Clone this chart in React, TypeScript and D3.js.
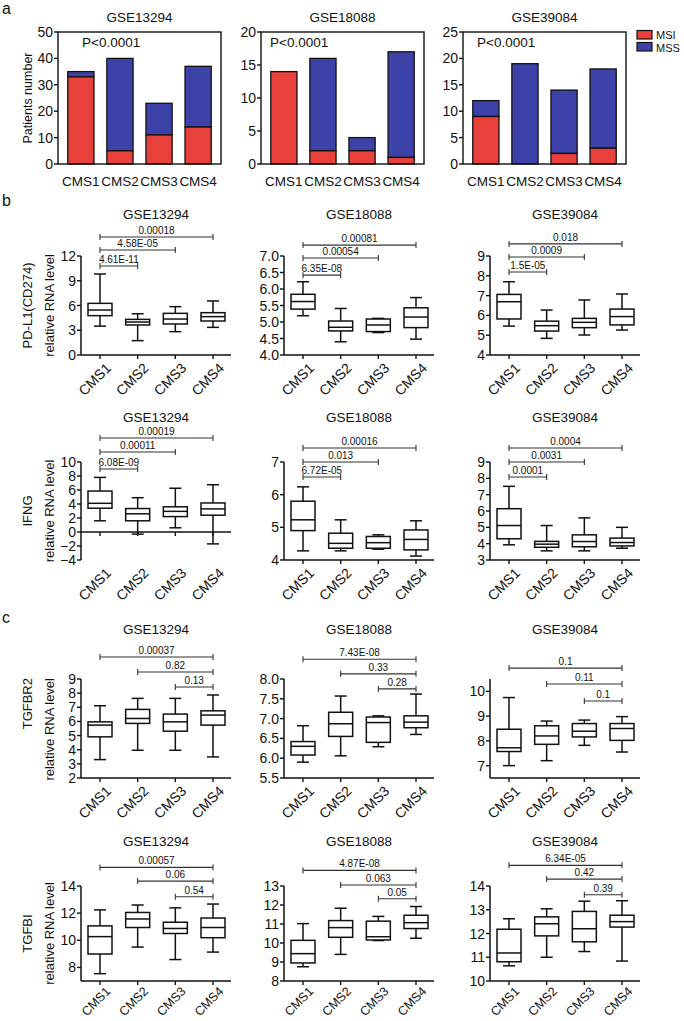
import React from "react";
import * as d3 from "d3";

// ---------- data ----------
const CATS = ["CMS1", "CMS2", "CMS3", "CMS4"];
const DATASETS = ["GSE13294", "GSE18088", "GSE39084"];

// panel a: patient counts
const MSI_GSE13294 = [33, 5, 11, 14];
const MSS_GSE13294 = [2, 35, 12, 23];
const MSI_GSE18088 = [14, 2, 2, 1];
const MSS_GSE18088 = [0, 14, 2, 16];
const MSI_GSE39084 = [9, 0, 2, 3];
const MSS_GSE39084 = [3, 19, 12, 15];
const BAR_YMAX = [50, 20, 25];
const BAR_TICKS = [
  [0, 10, 20, 30, 40, 50],
  [0, 5, 10, 15, 20],
  [0, 5, 10, 15, 20, 25],
];
const P_LABEL = "P<0.0001";
const LEGEND = ["MSI", "MSS"];

// box stats: [min, q1, median, q3, max]
const PDL1_GSE13294 = [[3.5, 4.77, 5.45, 6.26, 9.82], [1.74, 3.64, 4.0, 4.32, 5.0], [2.83, 3.76, 4.36, 5.05, 5.86], [3.35, 4.12, 4.65, 5.13, 6.55]];
const PDL1_GSE18088 = [[5.19, 5.39, 5.62, 5.84, 6.22], [4.4, 4.73, 4.84, 5.03, 5.41], [4.68, 4.71, 4.91, 5.09, 5.11], [4.48, 4.83, 5.15, 5.43, 5.74]];
const PDL1_GSE39084 = [[5.46, 5.82, 6.69, 7.06, 7.7], [4.84, 5.21, 5.48, 5.71, 6.27], [5.01, 5.38, 5.65, 5.85, 6.78], [5.26, 5.52, 5.94, 6.32, 7.08]];
const IFNG_GSE13294 = [[1.6, 3.4, 4.1, 5.85, 7.8], [-0.3, 1.6, 2.6, 3.35, 4.9], [0.6, 2.2, 2.95, 3.6, 6.25], [-1.7, 2.4, 3.3, 4.15, 6.75]];
const IFNG_GSE18088 = [[4.28, 4.9, 5.23, 5.8, 6.24], [4.28, 4.36, 4.51, 4.82, 5.23], [4.33, 4.36, 4.53, 4.72, 4.77], [4.12, 4.31, 4.63, 4.92, 5.2]];
const IFNG_GSE39084 = [[3.93, 4.3, 5.11, 6.14, 7.51], [3.56, 3.78, 3.97, 4.14, 5.11], [3.56, 3.81, 4.13, 4.54, 5.58], [3.72, 3.86, 4.07, 4.34, 5.0]];
const TGFBR2_GSE13294 = [[3.3, 4.91, 5.74, 5.97, 7.11], [3.96, 5.86, 6.21, 6.85, 7.63], [3.96, 5.31, 5.97, 6.52, 7.63], [3.49, 5.74, 6.45, 6.75, 7.87]];
const TGFBR2_GSE18088 = [[5.9, 6.08, 6.3, 6.42, 6.82], [6.06, 6.55, 6.87, 7.16, 7.57], [6.29, 6.4, 6.9, 7.04, 7.07], [6.6, 6.77, 6.91, 7.07, 7.62]];
const TGFBR2_GSE39084 = [[7.0, 7.57, 7.72, 8.47, 9.75], [7.2, 7.86, 8.2, 8.61, 8.8], [7.82, 8.16, 8.39, 8.7, 8.84], [7.55, 8.02, 8.5, 8.7, 8.98]];
const TGFBI_GSE13294 = [[7.54, 8.99, 10.27, 11.06, 12.24], [9.5, 10.94, 11.57, 12.05, 12.6], [8.58, 10.5, 10.87, 11.33, 12.39], [9.13, 10.19, 10.94, 11.64, 12.67]];
const TGFBI_GSE18088 = [[8.75, 8.95, 9.44, 10.14, 11.02], [9.4, 10.3, 10.81, 11.18, 11.83], [10.13, 10.16, 10.33, 11.15, 11.4], [10.25, 10.76, 11.07, 11.46, 11.92]];
const TGFBI_GSE39084 = [[10.64, 10.81, 11.18, 12.18, 12.62], [11.0, 11.9, 12.41, 12.7, 13.04], [11.24, 11.65, 12.2, 12.93, 13.36], [10.84, 12.27, 12.5, 12.77, 13.38]];

// brackets: [fromIdx, toIdx, label, height in data units]
const BR_PDL1 = [
  [[0, 3, "0.00018", 14.3], [0, 2, "4.58E-05", 12.73], [0, 1, "4.61E-11", 10.79]],
  [[0, 3, "0.00081", 7.33], [0, 2, "0.00054", 6.94], [0, 1, "6.35E-08", 6.42]],
  [[0, 3, "0.018", 9.61], [0, 2, "0.0009", 8.95], [0, 1, "1.5E-05", 8.19]],
];
const BR_IFNG = [
  [[0, 3, "0.00019", 13.43], [0, 2, "0.00011", 11.43], [0, 1, "6.08E-09", 9.0]],
  [[0, 3, "0.00016", 7.43], [0, 2, "0.013", 7.0], [0, 1, "6.72E-05", 6.54]],
  [[0, 3, "0.0004", 9.86], [0, 2, "0.0031", 9.0], [0, 1, "0.0001", 8.08]],
];
const BR_TGFBR2 = [
  [[0, 3, "0.00037", 10.56], [1, 3, "0.82", 9.5], [2, 3, "0.13", 8.43]],
  [[0, 3, "7.43E-08", 8.5], [1, 3, "0.33", 8.13], [2, 3, "0.28", 7.75]],
  [[0, 3, "0.1", 10.94], [1, 3, "0.11", 10.3], [2, 3, "0.1", 9.61]],
];
const BR_TGFBI = [
  [[0, 3, "0.00057", 15.37], [1, 3, "0.06", 14.36], [2, 3, "0.54", 13.21]],
  [[0, 3, "4.87E-08", 13.82], [1, 3, "0.063", 13.05], [2, 3, "0.05", 12.33]],
  [[0, 3, "6.34E-05", 14.87], [1, 3, "0.42", 14.29], [2, 3, "0.39", 13.63]],
];

const DOM_PDL1 = [[0, 12], [4, 7], [4, 9]];
const TICKS_PDL1 = [[0, 3, 6, 9, 12], [4, 4.5, 5, 5.5, 6, 6.5, 7], [4, 5, 6, 7, 8, 9]];
const DOM_IFNG = [[-4, 10], [4, 7], [3, 9]];
const TICKS_IFNG = [[-4, -2, 0, 2, 4, 6, 8, 10], [4, 5, 6, 7], [3, 4, 5, 6, 7, 8, 9]];
const DOM_TGFBR2 = [[2, 9], [5.5, 8], [6.5, 10.5]];
const TICKS_TGFBR2 = [[2, 3, 4, 5, 6, 7, 8, 9], [5.5, 6, 6.5, 7, 7.5, 8], [7, 8, 9, 10]];
const DOM_TGFBI = [[7, 14], [8, 13], [10, 14]];
const TICKS_TGFBI = [[8, 10, 12, 14], [8, 9, 10, 11, 12, 13], [10, 11, 12, 13, 14]];
const DECIMALS = [[0, 1, 0], [0, 0, 0], [0, 1, 0], [0, 0, 0]];

const YLABELS = [
  ["PD-L1(CD274)", "relative RNA level"],
  ["IFNG", "relative RNA level"],
  ["TGFBR2", "relative RNA level"],
  ["TGFBI", "relative RNA level"],
];

// ---------- layout ----------
const FONT = "'Liberation Sans', Arial, Helvetica, sans-serif";
const RED = "#E8403B";
const BLUE = "#3D42A8";
const COL_X = [81, 284, 490];
const ROW_TOP = [256, 462, 679, 886];
const ROW_BOT = [355, 560, 778, 981];
const ROW_TITLE = [219, 422, 634, 846];
const ROW_XFONT = [14, 14, 14, 12.5];
const ROW_XOFF = [7, 7, 7, 5];

function BarPanel({ idx, x0 }: any) {
  const msi = [MSI_GSE13294, MSI_GSE18088, MSI_GSE39084][idx];
  const mss = [MSS_GSE13294, MSS_GSE18088, MSS_GSE39084][idx];
  const W = 163, T = 32, B = 164;
  const x = d3.scaleBand().domain(CATS).range([x0, x0 + W]).paddingInner(0.33).paddingOuter(0.25);
  const y = d3.scaleLinear().domain([0, BAR_YMAX[idx]]).range([B, T]);
  const pdx = [24, 9, 14][idx];
  return (
    <g>
      <text x={x0 + W / 2} y={22} textAnchor="middle" fontSize={13.5}>{DATASETS[idx]}</text>
      {CATS.map((c, i) => {
        const total = msi[i] + mss[i];
        return (
          <g key={c}>
            {mss[i] > 0 && (
              <rect x={x(c)} y={y(total)} width={x.bandwidth()} height={y(msi[i]) - y(total)} fill={BLUE} stroke="#111" strokeWidth={1.3} />
            )}
            {msi[i] > 0 && (
              <rect x={x(c)} y={y(msi[i])} width={x.bandwidth()} height={B - y(msi[i])} fill={RED} stroke="#111" strokeWidth={1.3} />
            )}
            <text x={(x(c) as number) + x.bandwidth() / 2} y={186} textAnchor="middle" fontSize={13.5}>{c}</text>
          </g>
        );
      })}
      <rect x={x0} y={T} width={W} height={B - T} fill="none" stroke="#111" strokeWidth={1.4} />
      {BAR_TICKS[idx].map((t) => (
        <g key={t}>
          <line x1={x0 - 4} x2={x0} y1={y(t)} y2={y(t)} stroke="#111" strokeWidth={1.4} />
          <text x={x0 - 5} y={y(t) + 5} textAnchor="end" fontSize={14}>{t}</text>
        </g>
      ))}
      <text x={x0 + pdx} y={47} fontSize={13.5}>{P_LABEL}</text>
    </g>
  );
}

function BoxPanel({ boxes, domain, ticks, dec, brackets, title, x0, T, B, titleY, zeroAxis, xFont, xOff }: any) {
  const x = d3.scalePoint().domain(CATS).range([x0 + 19, x0 + 132]);
  const y = d3.scaleLinear().domain(domain).range([B, T]);
  const axisY = zeroAxis ? y(0) : B;
  const bw = 24, cw = 12;
  const fmt = d3.format(dec ? ".1f" : "d");
  return (
    <g>
      <text x={x0 + 75} y={titleY} textAnchor="middle" fontSize={13.5}>{title}</text>
      {/* y axis */}
      <line x1={x0} x2={x0} y1={T} y2={B} stroke="#111" strokeWidth={1.5} />
      {ticks.map((t: number) => (
        <g key={t}>
          <line x1={x0 - 4} x2={x0} y1={y(t)} y2={y(t)} stroke="#111" strokeWidth={1.4} />
          <text x={x0 - 5} y={y(t) + 5} textAnchor="end" fontSize={14}>{fmt(t)}</text>
        </g>
      ))}
      {/* x axis */}
      <line x1={x0} x2={x0 + 150} y1={axisY} y2={axisY} stroke="#111" strokeWidth={1.5} />
      {CATS.map((c) => (
        <line key={c} x1={x(c)} x2={x(c)} y1={axisY} y2={axisY + 4} stroke="#111" strokeWidth={1.4} />
      ))}
      {/* boxes */}
      {boxes.map((b: number[], i: number) => {
        const cx = x(CATS[i]) as number;
        const [mn, q1, md, q3, mx] = b;
        return (
          <g key={i} stroke="#111" strokeWidth={1.5} fill="none">
            <line x1={cx} x2={cx} y1={y(mx)} y2={y(q3)} />
            <line x1={cx} x2={cx} y1={y(q1)} y2={y(mn)} />
            <line x1={cx - cw / 2} x2={cx + cw / 2} y1={y(mx)} y2={y(mx)} />
            <line x1={cx - cw / 2} x2={cx + cw / 2} y1={y(mn)} y2={y(mn)} />
            <rect x={cx - bw / 2} y={y(q3)} width={bw} height={y(q1) - y(q3)} fill="#fff" />
            <line x1={cx - bw / 2} x2={cx + bw / 2} y1={y(md)} y2={y(md)} />
          </g>
        );
      })}
      {/* brackets */}
      {brackets.map((br: any, k: number) => {
        const [a, b2, lab, v] = br;
        const xa = x(CATS[a]) as number, xb = x(CATS[b2]) as number, yy = y(v);
        return (
          <g key={k}>
            <g stroke="#333" strokeWidth={1.1}>
              <line x1={xa} x2={xb} y1={yy} y2={yy} />
              <line x1={xa} x2={xa} y1={yy - 3} y2={yy + 3} />
              <line x1={xb} x2={xb} y1={yy - 3} y2={yy + 3} />
            </g>
            <text x={(xa + xb) / 2} y={yy - 3} textAnchor="middle" fontSize={10}>{lab}</text>
          </g>
        );
      })}
      {/* category labels */}
      {CATS.map((c) => (
        <text key={c} transform={`translate(${(x(c) as number) + 5},${B + xOff}) rotate(-45)`} textAnchor="end" fontSize={xFont} dy="0.7em">{c}</text>
      ))}
    </g>
  );
}

export default function App() {
  const rows = [
    { boxes: [PDL1_GSE13294, PDL1_GSE18088, PDL1_GSE39084], dom: DOM_PDL1, ticks: TICKS_PDL1, br: BR_PDL1 },
    { boxes: [IFNG_GSE13294, IFNG_GSE18088, IFNG_GSE39084], dom: DOM_IFNG, ticks: TICKS_IFNG, br: BR_IFNG },
    { boxes: [TGFBR2_GSE13294, TGFBR2_GSE18088, TGFBR2_GSE39084], dom: DOM_TGFBR2, ticks: TICKS_TGFBR2, br: BR_TGFBR2 },
    { boxes: [TGFBI_GSE13294, TGFBI_GSE18088, TGFBI_GSE39084], dom: DOM_TGFBI, ticks: TICKS_TGFBI, br: BR_TGFBI },
  ];
  return (
    <svg width={684} height={1021} style={{ position: "absolute", left: 0, top: 0, background: "#fff" }} fontFamily={FONT} fill="#111">
      <rect x={0} y={0} width={684} height={1021} fill="#fff" />
      <text x={2} y={14} fontSize={16}>a</text>
      <text x={2} y={206} fontSize={16}>b</text>
      <text x={2} y={623} fontSize={16}>c</text>

      {/* panel a */}
      <text transform="translate(32,98) rotate(-90)" textAnchor="middle" fontSize={12.5}>Patients number</text>
      {[58, 261, 463].map((x0, i) => (
        <BarPanel key={i} idx={i} x0={x0} />
      ))}
      <rect x={637} y={30.5} width={15} height={8.5} fill={RED} stroke="#111" strokeWidth={1.2} />
      <rect x={637} y={42.5} width={15} height={8.5} fill={BLUE} stroke="#111" strokeWidth={1.2} />
      <text x={656} y={39} fontSize={11}>{LEGEND[0]}</text>
      <text x={656} y={51.5} fontSize={11}>{LEGEND[1]}</text>

      {/* panels b, c */}
      {rows.map((r, ri) => {
        const mid = (ROW_TOP[ri] + ROW_BOT[ri]) / 2;
        const alignTop = ri === 2;
        return (
          <g key={ri}>
            {alignTop ? (
              <>
                <text transform={`translate(32,${ROW_TOP[ri] - 1}) rotate(-90)`} textAnchor="end" fontSize={13}>{YLABELS[ri][0]}</text>
                <text transform={`translate(54,${ROW_TOP[ri] - 1}) rotate(-90)`} textAnchor="end" fontSize={13}>{YLABELS[ri][1]}</text>
              </>
            ) : (
              <>
                <text transform={`translate(32,${mid}) rotate(-90)`} textAnchor="middle" fontSize={13}>{YLABELS[ri][0]}</text>
                <text transform={`translate(54,${mid}) rotate(-90)`} textAnchor="middle" fontSize={13}>{YLABELS[ri][1]}</text>
              </>
            )}
            {COL_X.map((x0, ci) => (
              <BoxPanel
                key={ci}
                boxes={r.boxes[ci]}
                domain={r.dom[ci]}
                ticks={r.ticks[ci]}
                dec={DECIMALS[ri][ci]}
                brackets={r.br[ci]}
                title={DATASETS[ci]}
                x0={x0}
                T={ROW_TOP[ri]}
                B={ROW_BOT[ri]}
                titleY={ROW_TITLE[ri]}
                zeroAxis={ri === 1 && ci === 0}
                xFont={ROW_XFONT[ri]}
                xOff={ROW_XOFF[ri]}
              />
            ))}
          </g>
        );
      })}
    </svg>
  );
}
